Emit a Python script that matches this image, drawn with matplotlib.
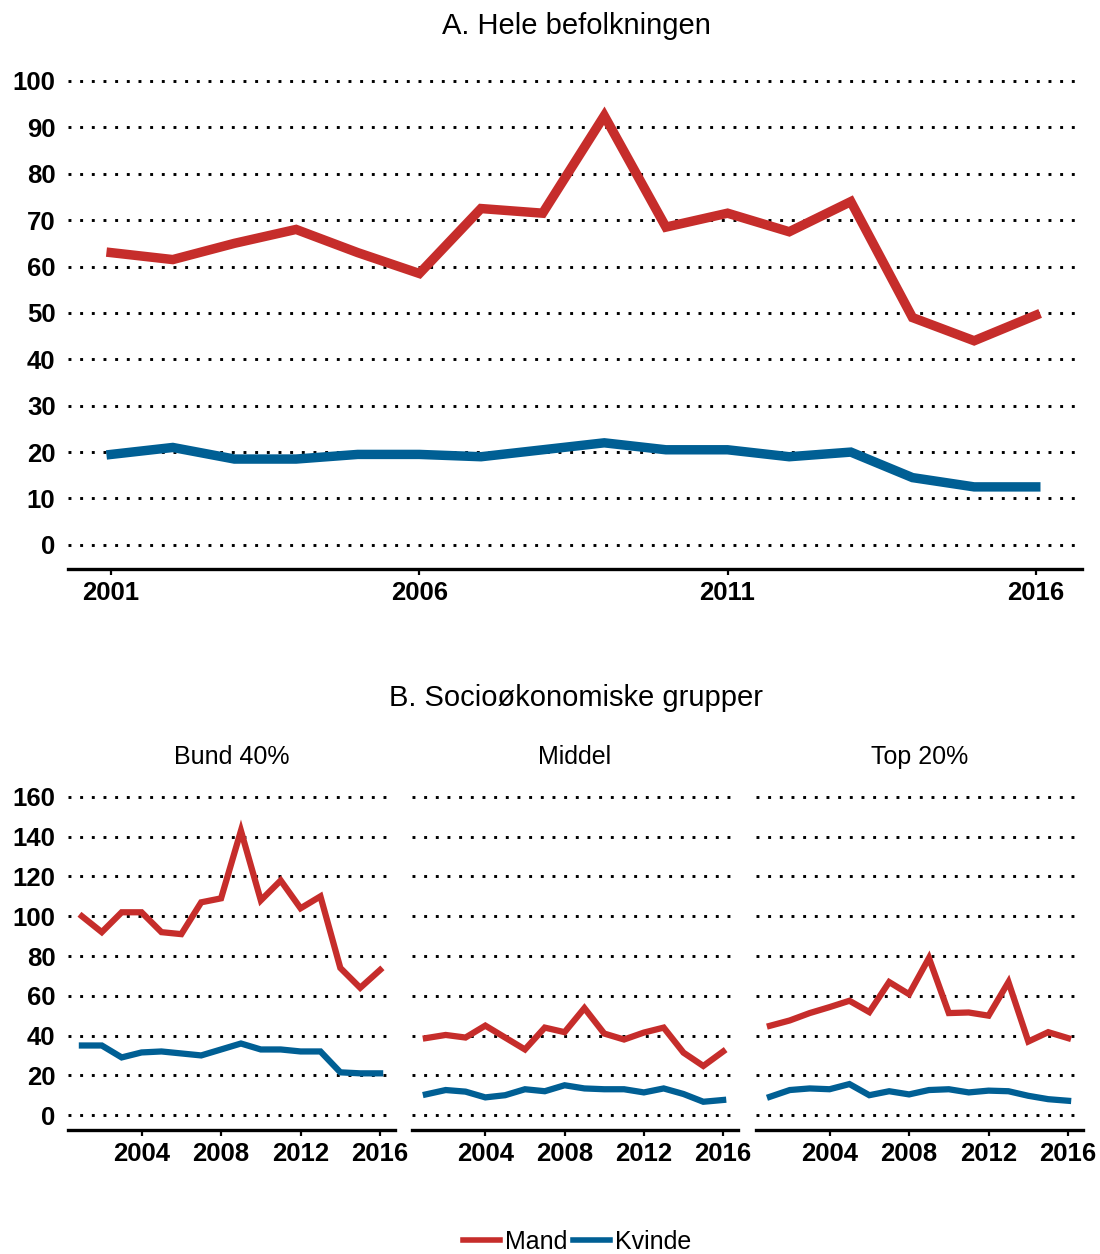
import numpy as np
import matplotlib
matplotlib.use('Agg')
import matplotlib.pyplot as plt
from matplotlib.lines import Line2D

plt.rcParams['font.family'] = ['Liberation Sans', 'DejaVu Sans']

years = list(range(2001, 2017))

# A. Hele befolkningen
hele_mand = [63, 61.5, 65, 68, 63, 58.5, 72.5, 71.5, 92.5, 68.5, 71.5, 67.5, 74, 49, 44, 49.5]
hele_kvinde = [19.5, 21, 18.5, 18.5, 19.5, 19.5, 19, 20.5, 22, 20.5, 20.5, 19, 20, 14.5, 12.5, 12.5]

# B. Socioøkonomiske grupper
grupper = ['Bund 40%', 'Middel', 'Top 20%']
bund_mand = [100, 92, 102, 102, 92, 91, 107, 109, 143, 108, 118, 104, 110, 74, 64, 73]
bund_kvinde = [35, 35, 29, 31.5, 32, 31, 30, 33, 36, 33, 33, 32, 32, 21.5, 21, 21]
middel_mand = [38.7, 40.3, 39, 45, 39, 33, 44, 41.7, 53.8, 41, 38, 41.5, 44, 31.4, 24.7, 32]
middel_kvinde = [10.4, 12.6, 11.8, 8.9, 10, 13, 12, 15, 13.4, 13, 13, 11.4, 13.4, 10.6, 6.7, 7.6]
top_mand = [44.9, 47.6, 51.3, 54.3, 57.5, 51.8, 66.9, 60.8, 79, 51.3, 51.6, 50, 66.9, 37, 41.7, 38.7]
top_kvinde = [9.2, 12.6, 13.4, 13, 15.6, 10, 12, 10.4, 12.6, 13, 11.4, 12.3, 12, 9.7, 8, 7.2]

RED = '#C62D2B'
BLUE = '#005F94'
W, H = 1100, 1254


def px_axes(fig, x0, x1, ytop, ybot):
    return fig.add_axes([x0 / W, 1 - ybot / H, (x1 - x0) / W, (ybot - ytop) / H])


def style(ax, yticks, ylim, xticks, show_y=True):
    ax.set_xlim(2000.3, 2016.75)
    ax.set_ylim(*ylim)
    ax.set_yticks(yticks)
    ax.set_xticks(xticks)
    for s in ['top', 'right', 'left']:
        ax.spines[s].set_visible(False)
    ax.spines['bottom'].set_linewidth(2.4)
    ax.tick_params(axis='x', length=4.5, width=1.6, direction='out', pad=4)
    ax.tick_params(axis='y', length=0, pad=9, labelleft=show_y)
    for lab in ax.get_xticklabels() + ax.get_yticklabels():
        lab.set_fontsize(18.5)
        lab.set_fontweight('bold')
    for yv in yticks:
        ax.axhline(yv, color='black', lw=2.1, linestyle=(0, (1, 3)), zorder=0)


fig = plt.figure(figsize=(11, 12.54), dpi=100)

ax = px_axes(fig, 68, 1082, 71.7, 569)
ax.plot(years, hele_mand, color=RED, lw=6.8, solid_joinstyle='miter')
ax.plot(years, hele_kvinde, color=BLUE, lw=6.8, solid_joinstyle='miter')
style(ax, np.arange(0, 101, 10), (-5.2, 102), [2001, 2006, 2011, 2016])
fig.text(576 / W, 1 - 26 / H, 'A. Hele befolkningen', ha='center', va='center', fontsize=21)

fig.text(576 / W, 1 - 698 / H, 'B. Socioøkonomiske grupper', ha='center', va='center', fontsize=21)

series = [(bund_mand, bund_kvinde), (middel_mand, middel_kvinde), (top_mand, top_kvinde)]
xpos = [(68, 395), (412, 738), (756, 1083)]
for i, (navn, (m, k), (x0, x1)) in enumerate(zip(grupper, series, xpos)):
    bx = px_axes(fig, x0, x1, 787, 1130)
    bx.plot(years, m, color=RED, lw=4.5, solid_joinstyle='miter')
    bx.plot(years, k, color=BLUE, lw=4.5, solid_joinstyle='miter')
    style(bx, np.arange(0, 161, 20), (-7.5, 165), [2004, 2008, 2012, 2016], show_y=(i == 0))
    fig.text((x0 + x1) / 2 / W, 1 - 757 / H, navn, ha='center', va='center', fontsize=18)

handles = [Line2D([], [], color=RED, lw=4), Line2D([], [], color=BLUE, lw=4)]
fig.legend(handles, ['Mand', 'Kvinde'], loc='center', bbox_to_anchor=(577 / W, 1 - 1242 / H),
           ncol=2, frameon=False, fontsize=18, handlelength=1.5, handletextpad=0.2,
           columnspacing=0.2, borderpad=0)

fig.savefig('out.png', dpi=100)
